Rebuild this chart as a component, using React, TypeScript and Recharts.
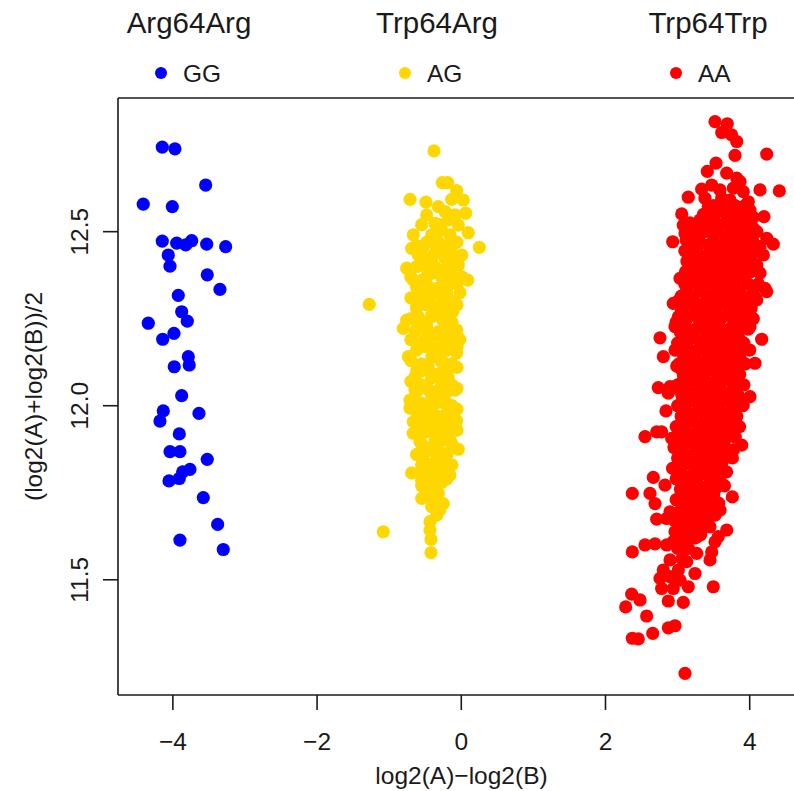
import React from 'react';
import { ScatterChart, Scatter, XAxis, YAxis, ReferenceLine } from 'recharts';

const xTicks = [-4, -2, 0, 2, 4];
const yTicks = [11.5, 12.0, 12.5];
const xDomain = [-4.761, 4.767];
const yDomain = [11.169, 12.884];
const groupTitles = ['Arg64Arg', 'Trp64Arg', 'Trp64Trp'];
const genotypes = ['GG', 'AG', 'AA'];
const colors = ['#0000FF', '#FFD700', '#FF0000'];
const xTitle = 'log2(A)\u2212log2(B)';
const yTitle = '(log2(A)+log2(B))/2';

const ggPoints: number[][] = [
  [-4.147, 12.743], [-3.971, 12.738], [-3.545, 12.634], [-4.411, 12.579], [-4.008, 12.572],
  [-4.147, 12.473], [-3.947, 12.467], [-3.822, 12.462], [-3.739, 12.474], [-3.531, 12.464],
  [-3.268, 12.457], [-4.064, 12.433], [-4.04, 12.401], [-3.523, 12.376], [-3.347, 12.334],
  [-3.925, 12.317], [-3.878, 12.27], [-3.8, 12.243], [-4.341, 12.237], [-3.985, 12.208],
  [-4.141, 12.191], [-3.786, 12.141], [-3.773, 12.117], [-3.981, 12.112], [-3.878, 12.029],
  [-4.133, 11.985], [-4.179, 11.956], [-3.638, 11.978], [-3.911, 11.919], [-4.04, 11.868],
  [-3.902, 11.868], [-3.523, 11.846], [-3.763, 11.817], [-3.864, 11.81], [-3.911, 11.791],
  [-4.054, 11.784], [-3.578, 11.736], [-3.379, 11.659], [-3.902, 11.614], [-3.301, 11.587],
];

const agPoints: number[][] = [
  [-0.379, 12.732], [-0.264, 12.641], [-0.189, 12.641], [-0.064, 12.618], [-0.711, 12.593],
  [-0.49, 12.585], [-0.133, 12.593], [0.028, 12.591], [-0.319, 12.572], [-0.48, 12.548],
  [-0.226, 12.558], [0.061, 12.553], [-0.087, 12.548], [-0.365, 12.524], [-0.18, 12.534],
  [-0.042, 12.519], [0.097, 12.497], [-0.666, 12.491], [-0.272, 12.505], [-0.411, 12.491],
  [-0.157, 12.491], [0.25, 12.455], [-0.688, 12.452], [-0.527, 12.457], [-0.319, 12.471],
  [-0.133, 12.457], [0.006, 12.433], [-0.596, 12.433], [-0.388, 12.433], [-0.226, 12.424],
  [-0.757, 12.395], [-0.549, 12.404], [-0.365, 12.399], [-0.157, 12.399], [-0.042, 12.404],
  [-0.666, 12.361], [-0.48, 12.371], [-0.272, 12.371], [-0.111, 12.371], [0.089, 12.361],
  [-0.018, 12.325], [-0.527, 12.333], [-0.341, 12.337], [-0.203, 12.323], [-1.276, 12.291],
  [-0.619, 12.285], [-0.434, 12.294], [-0.272, 12.289], [-0.157, 12.294], [-0.757, 12.246],
  [-0.596, 12.256], [-0.411, 12.256], [-0.25, 12.246], [-0.804, 12.222], [-0.064, 12.218],
  [-0.042, 12.194], [-0.642, 12.213], [-0.48, 12.218], [-0.319, 12.213], [-0.157, 12.213],
  [-0.735, 12.141], [-0.064, 12.152], [-0.549, 12.17], [-0.365, 12.165], [-0.18, 12.17],
  [-0.133, 12.112], [-0.642, 12.083], [-0.458, 12.112], [-0.295, 12.093], [-0.087, 12.045],
  [-0.642, 12.045], [-0.48, 12.055], [-0.319, 12.045], [-0.711, 12.016], [-0.711, 11.993],
  [-0.549, 12.007], [-0.388, 12.002], [-0.203, 12.007], [-0.133, 11.978], [-0.064, 11.957],
  [-0.666, 11.954], [-0.503, 11.964], [-0.319, 11.968], [-0.666, 11.921], [-0.48, 11.925],
  [-0.295, 11.93], [-0.157, 11.93], [-0.573, 11.897], [-0.365, 11.897], [-0.157, 11.901],
  [-0.042, 11.875], [-0.527, 11.863], [-0.319, 11.868], [-0.203, 11.863], [-0.48, 11.834],
  [-0.25, 11.83], [-0.688, 11.807], [-0.549, 11.801], [-0.365, 11.806], [-0.157, 11.801],
  [-0.549, 11.786], [-0.411, 11.777], [-0.319, 11.748], [-0.549, 11.734], [-0.25, 11.719],
  [-0.388, 11.719], [-0.341, 11.686], [-0.434, 11.667], [-0.434, 11.643], [-1.082, 11.638],
  [-0.42, 11.616], [-0.42, 11.578],
  [-0.43, 12.42], [-0.22, 12.35], [-0.5, 12.19], [-0.29, 12.13], [-0.43, 12.04],
  [-0.22, 11.95], [-0.43, 11.88], [-0.22, 11.84], [-0.6, 12.31], [-0.35, 12.27],
  [-0.12, 12.27], [-0.55, 12.1], [-0.18, 12.08], [-0.6, 11.94], [-0.3, 11.81],
  [-0.47, 11.76], [-0.3, 12.52], [-0.55, 12.52],
];

const agCore: number[][] = [
  [-0.62, 12.46], [-0.48, 12.47], [-0.34, 12.45], [-0.2, 12.46], [-0.06, 12.47],
  [-0.55, 12.43], [-0.41, 12.42], [-0.27, 12.44], [-0.13, 12.43],
  [-0.62, 12.4], [-0.48, 12.41], [-0.34, 12.39], [-0.2, 12.4], [-0.06, 12.41],
  [-0.7, 12.37], [-0.55, 12.36], [-0.41, 12.38], [-0.27, 12.37], [-0.13, 12.36], [0.01, 12.37],
  [-0.62, 12.34], [-0.48, 12.35], [-0.34, 12.33], [-0.2, 12.34], [-0.06, 12.35],
  [-0.7, 12.31], [-0.55, 12.3], [-0.41, 12.32], [-0.27, 12.31], [-0.13, 12.3],
  [-0.62, 12.28], [-0.48, 12.29], [-0.34, 12.27], [-0.2, 12.28], [-0.06, 12.29],
  [-0.7, 12.25], [-0.55, 12.24], [-0.41, 12.26], [-0.27, 12.25], [-0.13, 12.24],
  [-0.62, 12.22], [-0.48, 12.23], [-0.34, 12.21], [-0.2, 12.22],
  [-0.7, 12.19], [-0.55, 12.18], [-0.41, 12.2], [-0.27, 12.19], [-0.13, 12.18], [-0.02, 12.19],
  [-0.62, 12.16], [-0.48, 12.17], [-0.34, 12.15], [-0.2, 12.16], [-0.06, 12.17],
  [-0.7, 12.13], [-0.55, 12.12], [-0.41, 12.14], [-0.27, 12.13], [-0.13, 12.12],
  [-0.62, 12.1], [-0.48, 12.11], [-0.34, 12.09], [-0.2, 12.1], [-0.06, 12.11],
  [-0.7, 12.07], [-0.55, 12.06], [-0.41, 12.08], [-0.27, 12.07], [-0.13, 12.06],
  [-0.62, 12.04], [-0.48, 12.05], [-0.34, 12.03], [-0.2, 12.04], [-0.06, 12.05],
  [-0.7, 12.01], [-0.55, 12.0], [-0.41, 12.02], [-0.27, 12.01], [-0.13, 12.0],
  [-0.62, 11.98], [-0.48, 11.99], [-0.34, 11.97], [-0.2, 11.98], [-0.06, 11.99],
  [-0.55, 11.95], [-0.41, 11.94], [-0.27, 11.96], [-0.13, 11.95],
  [-0.62, 11.92], [-0.48, 11.93], [-0.34, 11.91], [-0.2, 11.92], [-0.06, 11.93],
  [-0.55, 11.89], [-0.41, 11.88], [-0.27, 11.9], [-0.13, 11.89],
  [-0.62, 11.86], [-0.48, 11.87], [-0.34, 11.85], [-0.2, 11.86],
  [-0.55, 11.83], [-0.41, 11.82], [-0.27, 11.84], [-0.13, 11.83],
  [-0.48, 11.8], [-0.34, 11.81], [-0.2, 11.79],
  [-0.55, 11.77], [-0.41, 11.76], [-0.27, 11.78],
  [-0.48, 11.74], [-0.34, 11.75],
  [-0.41, 11.71], [-0.3, 11.7],
];

const aaUpper: number[][] = [
  [3.519, 12.816], [3.689, 12.81], [3.612, 12.785], [3.75, 12.778], [3.82, 12.759],
  [3.796, 12.719], [4.236, 12.723], [3.533, 12.697], [3.412, 12.673], [3.681, 12.668],
  [3.82, 12.654], [3.866, 12.644], [3.334, 12.622], [3.473, 12.634], [3.588, 12.62],
  [3.773, 12.625], [3.911, 12.615], [4.143, 12.62], [4.411, 12.617], [3.148, 12.599],
  [3.38, 12.596], [3.612, 12.596], [3.727, 12.591], [3.981, 12.586], [3.588, 12.562],
  [3.426, 12.572], [3.866, 12.567], [4.004, 12.562], [3.057, 12.551], [3.311, 12.534],
  [3.449, 12.539], [3.796, 12.541], [4.05, 12.541], [4.198, 12.543], [3.079, 12.519],
  [3.218, 12.51], [3.404, 12.514], [3.588, 12.519], [3.727, 12.51], [3.911, 12.514],
  [4.05, 12.51], [3.103, 12.495], [3.287, 12.486], [3.495, 12.491], [3.681, 12.486],
  [3.842, 12.491], [4.004, 12.488], [4.236, 12.481], [2.932, 12.471], [4.327, 12.464],
  [3.196, 12.467], [3.426, 12.462], [3.588, 12.457], [3.773, 12.462], [3.958, 12.459],
  [4.143, 12.457], [3.196, 12.438], [3.357, 12.428], [3.542, 12.433], [3.727, 12.428],
  [3.889, 12.433], [4.05, 12.438], [4.189, 12.433], [3.218, 12.404], [3.404, 12.399],
  [3.588, 12.404], [3.773, 12.401], [3.958, 12.399], [4.097, 12.404], [3.033, 12.366],
  [3.196, 12.371], [3.357, 12.366], [3.542, 12.371], [3.727, 12.366], [3.911, 12.371],
  [4.143, 12.381], [4.212, 12.337], [3.126, 12.333], [3.311, 12.333], [3.495, 12.333],
  [3.681, 12.333], [3.866, 12.333], [4.05, 12.328],
  [3.5, 12.575], [3.66, 12.575], [3.8, 12.575], [3.93, 12.575],
  [3.36, 12.55], [3.52, 12.55], [3.68, 12.55], [3.86, 12.55], [3.98, 12.55],
  [3.17, 12.525], [3.33, 12.525], [3.5, 12.525], [3.66, 12.525], [3.84, 12.525], [3.98, 12.525],
  [3.2, 12.5], [3.38, 12.5], [3.55, 12.5], [3.75, 12.5], [3.92, 12.5], [4.1, 12.5],
  [3.12, 12.475], [3.3, 12.475], [3.5, 12.475], [3.67, 12.475], [3.86, 12.475], [4.04, 12.475],
  [3.1, 12.445], [3.27, 12.445], [3.45, 12.445], [3.64, 12.445], [3.81, 12.445], [3.98, 12.445], [4.12, 12.445],
  [3.13, 12.415], [3.3, 12.415], [3.48, 12.415], [3.65, 12.415], [3.85, 12.415], [4.02, 12.415],
  [3.11, 12.385], [3.28, 12.385], [3.45, 12.385], [3.64, 12.385], [3.83, 12.385], [4.02, 12.385],
  [3.1, 12.35], [3.27, 12.35], [3.45, 12.35], [3.62, 12.35], [3.8, 12.35], [3.98, 12.35], [4.12, 12.35],
  [3.05, 12.315], [3.22, 12.315], [3.4, 12.315], [3.57, 12.315], [3.74, 12.315], [3.9, 12.315], [4.05, 12.315],
];

const aaCore: number[][] = [
  [3.0, 12.3], [3.16, 12.31], [3.3, 12.29], [3.47, 12.3], [3.62, 12.31], [3.78, 12.29], [3.93, 12.3], [4.08, 12.31],
  [3.05, 12.27], [3.22, 12.26], [3.38, 12.28], [3.53, 12.27], [3.7, 12.26], [3.86, 12.27], [4.02, 12.28],
  [2.98, 12.24], [3.13, 12.25], [3.29, 12.23], [3.45, 12.24], [3.6, 12.25], [3.76, 12.23], [3.91, 12.24], [4.05, 12.25],
  [3.04, 12.21], [3.2, 12.2], [3.36, 12.22], [3.51, 12.21], [3.67, 12.2], [3.83, 12.21], [3.98, 12.22],
  [3.0, 12.18], [3.15, 12.19], [3.31, 12.17], [3.46, 12.18], [3.62, 12.19], [3.77, 12.17], [3.92, 12.18],
  [3.07, 12.15], [3.22, 12.14], [3.38, 12.16], [3.54, 12.15], [3.69, 12.14], [3.85, 12.15], [4.0, 12.16],
  [3.02, 12.12], [3.17, 12.13], [3.33, 12.11], [3.48, 12.12], [3.64, 12.13], [3.79, 12.11], [3.94, 12.12],
  [3.08, 12.09], [3.24, 12.08], [3.4, 12.1], [3.55, 12.09], [3.7, 12.08], [3.86, 12.09],
  [3.0, 12.06], [3.15, 12.07], [3.31, 12.05], [3.46, 12.06], [3.62, 12.07], [3.77, 12.05], [3.92, 12.06],
  [3.06, 12.03], [3.22, 12.02], [3.37, 12.04], [3.53, 12.03], [3.68, 12.02], [3.84, 12.03],
  [3.0, 12.0], [3.14, 12.01], [3.3, 11.99], [3.45, 12.0], [3.6, 12.01], [3.76, 11.99], [3.9, 12.0],
  [3.05, 11.97], [3.2, 11.96], [3.36, 11.98], [3.51, 11.97], [3.67, 11.96], [3.82, 11.97],
  [2.98, 11.94], [3.13, 11.95], [3.28, 11.93], [3.44, 11.94], [3.59, 11.95], [3.74, 11.93], [3.86, 11.94],
  [3.04, 11.91], [3.19, 11.9], [3.35, 11.92], [3.5, 11.91], [3.65, 11.9], [3.8, 11.91],
  [2.95, 11.88], [3.1, 11.89], [3.26, 11.87], [3.41, 11.88], [3.56, 11.89], [3.72, 11.87],
  [3.0, 11.85], [3.16, 11.84], [3.32, 11.86], [3.47, 11.85], [3.62, 11.84], [3.76, 11.85],
  [2.93, 11.82], [3.08, 11.83], [3.24, 11.81], [3.39, 11.82], [3.54, 11.83], [3.68, 11.81],
  [2.98, 11.79], [3.14, 11.78], [3.3, 11.8], [3.45, 11.79], [3.6, 11.78],
  [3.04, 11.76], [3.2, 11.77], [3.36, 11.75], [3.52, 11.76], [3.65, 11.77],
  [2.98, 11.73], [3.12, 11.72], [3.28, 11.74], [3.43, 11.73], [3.57, 11.72],
  [3.04, 11.7], [3.2, 11.71], [3.35, 11.69], [3.5, 11.7],
  [2.96, 11.67], [3.1, 11.66], [3.26, 11.68], [3.41, 11.67],
  [3.02, 11.64], [3.17, 11.65], [3.32, 11.63],
  [2.94, 11.61], [3.1, 11.6], [3.24, 11.62],
  [3.08, 12.285], [3.23, 12.285], [3.39, 12.285], [3.55, 12.285], [3.7, 12.285], [3.85, 12.285], [4.0, 12.285],
  [3.01, 12.255], [3.14, 12.255], [3.3, 12.255], [3.46, 12.255], [3.62, 12.255], [3.78, 12.255], [3.94, 12.255],
  [3.12, 12.225], [3.28, 12.225], [3.44, 12.225], [3.59, 12.225], [3.75, 12.225], [3.9, 12.225],
  [3.07, 12.195], [3.23, 12.195], [3.38, 12.195], [3.54, 12.195], [3.7, 12.195], [3.85, 12.195],
  [3.14, 12.165], [3.3, 12.165], [3.46, 12.165], [3.61, 12.165], [3.77, 12.165], [3.93, 12.165],
  [3.1, 12.135], [3.25, 12.135], [3.41, 12.135], [3.56, 12.135], [3.72, 12.135], [3.87, 12.135],
  [3.05, 12.105], [3.2, 12.105], [3.36, 12.105], [3.51, 12.105], [3.67, 12.105], [3.82, 12.105],
  [3.08, 12.075], [3.23, 12.075], [3.38, 12.075], [3.54, 12.075], [3.69, 12.075], [3.84, 12.075],
  [3.03, 12.045], [3.14, 12.045], [3.29, 12.045], [3.45, 12.045], [3.6, 12.045], [3.76, 12.045],
  [3.07, 12.015], [3.22, 12.015], [3.37, 12.015], [3.52, 12.015], [3.68, 12.015], [3.83, 12.015],
  [3.12, 11.985], [3.28, 11.985], [3.43, 11.985], [3.59, 11.985], [3.74, 11.985],
  [3.06, 11.955], [3.21, 11.955], [3.36, 11.955], [3.51, 11.955], [3.66, 11.955], [3.8, 11.955],
  [3.11, 11.925], [3.27, 11.925], [3.42, 11.925], [3.57, 11.925], [3.72, 11.925],
  [3.02, 11.895], [3.18, 11.895], [3.33, 11.895], [3.48, 11.895], [3.64, 11.895],
  [3.08, 11.865], [3.24, 11.865], [3.39, 11.865], [3.54, 11.865], [3.69, 11.865],
  [3.04, 11.835], [3.16, 11.835], [3.31, 11.835], [3.46, 11.835], [3.61, 11.835],
  [3.06, 11.805], [3.22, 11.805], [3.37, 11.805], [3.52, 11.805],
  [3.12, 11.775], [3.28, 11.775], [3.44, 11.775], [3.58, 11.775],
  [3.05, 11.745], [3.2, 11.745], [3.35, 11.745], [3.5, 11.745],
  [3.12, 11.715], [3.27, 11.715], [3.42, 11.715],
  [3.03, 11.685], [3.18, 11.685], [3.33, 11.685],
  [3.09, 11.655], [3.24, 11.655], [3.38, 11.655],
  [3.04, 11.625], [3.17, 11.625], [3.28, 11.625],
  [3.0, 11.59], [3.15, 11.59], [3.06, 11.56],
];

const aaOutliers: number[][] = [
  [2.756, 12.195], [4.166, 12.191], [2.802, 12.141], [2.964, 12.16], [2.988, 12.114],
  [2.732, 12.052], [2.895, 12.055], [2.871, 12.036], [2.839, 11.985], [4.073, 12.122],
  [4.004, 12.026], [3.911, 12.002], [2.548, 11.911], [2.71, 11.925], [2.779, 11.925],
  [2.918, 11.906], [3.889, 11.887], [3.773, 11.873], [4.097, 12.304], [4.236, 12.328],
  [4.004, 12.227], [2.94, 12.294], [2.964, 12.227],
];

const aaLower: number[][] = [
  [2.663, 11.794], [2.372, 11.748], [2.617, 11.748], [2.687, 11.719], [2.825, 11.772],
  [3.759, 11.738], [3.588, 11.7], [3.519, 11.686], [2.895, 11.695], [2.71, 11.674],
  [2.849, 11.676], [3.449, 11.652], [3.681, 11.643], [3.564, 11.624], [3.519, 11.609],
  [2.964, 11.638], [2.548, 11.6], [2.687, 11.603], [2.849, 11.6], [2.372, 11.58],
  [3.473, 11.58], [3.449, 11.557], [3.265, 11.576], [3.079, 11.585], [2.895, 11.557],
  [3.126, 11.552], [2.802, 11.528], [3.01, 11.528], [3.241, 11.518], [2.756, 11.504],
  [2.895, 11.509], [3.033, 11.499], [3.148, 11.48], [2.779, 11.475], [2.94, 11.475],
  [3.495, 11.48], [2.363, 11.459], [2.479, 11.442], [2.871, 11.439], [3.079, 11.435],
  [2.28, 11.422], [2.571, 11.396], [2.871, 11.362], [2.964, 11.368], [2.655, 11.346],
  [2.372, 11.332], [2.455, 11.33], [3.103, 11.231],
];

const toRows = (pts: number[][]) => pts.map(([x, y]) => ({ x, y }));
const series = [
  toRows(ggPoints),
  toRows([...agPoints, ...agCore]),
  toRows([...aaUpper, ...aaCore, ...aaOutliers, ...aaLower]),
];

const FONT = '"Liberation Sans", Arial, Helvetica, sans-serif';
const INK = '#1a1a1a';

const fmtX = (v: number) => (v < 0 ? '\u2212' + Math.abs(v) : String(v));

const XTick = (props: any) => {
  const { x, y, payload } = props;
  return (
    <text x={x} y={y + 38} textAnchor="middle" fontSize={24.5} fontFamily={FONT} fill={INK}>
      {fmtX(payload.value)}
    </text>
  );
};

const YTick = (props: any) => {
  const { x, y, payload } = props;
  const tx = x - 13;
  return (
    <text x={tx} y={y} transform={`rotate(-90 ${tx} ${y})`} textAnchor="middle" fontSize={24.5} fontFamily={FONT} fill={INK}>
      {Number(payload.value).toFixed(1)}
    </text>
  );
};

const dot = (color: string) => (props: any) => (
  <circle cx={props.cx} cy={props.cy} r={6.6} fill={color} />
);

const titleX = [189, 437, 708];
const legendDotX = [161, 405, 676];
const AXIS = { stroke: INK, strokeWidth: 1.6 };

export default function App() {
  return (
    <div style={{ position: 'fixed', left: 0, top: 0, width: 794, height: 791, overflow: 'hidden', background: '#fff' }}>
      <ScatterChart width={830} height={791} margin={{ top: 98, right: 25, bottom: 0, left: 0 }}>
        <XAxis
          type="number"
          dataKey="x"
          domain={xDomain}
          ticks={xTicks}
          allowDataOverflow
          height={96}
          tickSize={15}
          tick={<XTick />}
          axisLine={AXIS}
          tickLine={AXIS}
        />
        <YAxis
          type="number"
          dataKey="y"
          domain={yDomain}
          ticks={yTicks}
          allowDataOverflow
          width={118}
          tickSize={15}
          tick={<YTick />}
          axisLine={AXIS}
          tickLine={AXIS}
        />
        <ReferenceLine y={yDomain[1]} stroke={INK} strokeWidth={1.6} ifOverflow="visible" />
        <ReferenceLine x={xDomain[1]} stroke={INK} strokeWidth={1.6} ifOverflow="visible" />
        {series.map((data, i) => (
          <Scatter key={genotypes[i]} name={genotypes[i]} data={data} fill={colors[i]} shape={dot(colors[i])} isAnimationActive={false} />
        ))}
      </ScatterChart>
      <svg width={794} height={791} style={{ position: 'absolute', left: 0, top: 0, pointerEvents: 'none' }}>
        {groupTitles.map((t, i) => (
          <text key={t} x={titleX[i]} y={33} textAnchor="middle" fontSize={29.5} fontFamily={FONT} fill={INK}>{t}</text>
        ))}
        {genotypes.map((g, i) => (
          <g key={g}>
            <circle cx={legendDotX[i]} cy={73} r={6} fill={colors[i]} />
            <text x={legendDotX[i] + 22} y={82} fontSize={24.5} fontFamily={FONT} fill={INK}>{g}</text>
          </g>
        ))}
        <text x={461.5} y={784} textAnchor="middle" fontSize={24.5} fontFamily={FONT} fill={INK}>{xTitle}</text>
        <text x={42} y={396.5} transform="rotate(-90 42 396.5)" textAnchor="middle" fontSize={24.5} fontFamily={FONT} fill={INK}>{yTitle}</text>
      </svg>
    </div>
  );
}
